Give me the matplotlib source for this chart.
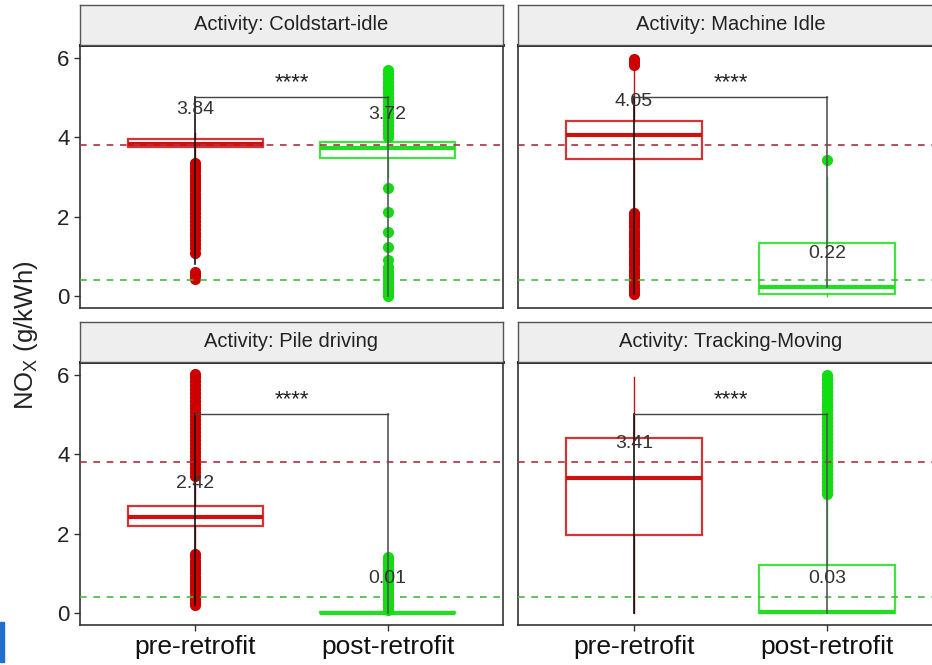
import matplotlib
matplotlib.use("Agg")
import matplotlib.pyplot as plt
from matplotlib.patches import Rectangle

plt.rcParams["font.family"] = ["Liberation Sans", "DejaVu Sans"]
plt.rcParams["mathtext.fontset"] = "custom"
plt.rcParams["mathtext.rm"] = "Liberation Sans"

groups = ["pre-retrofit", "post-retrofit"]
activities = ["Coldstart-idle", "Machine Idle", "Pile driving", "Tracking-Moving"]

# box statistics per activity: [pre, post]
medians = [[3.84, 3.72], [4.05, 0.22], [2.42, 0.01], [3.41, 0.03]]
q1s = [[3.74, 3.48], [3.45, 0.04], [2.20, 0.00], [1.97, 0.00]]
q3s = [[3.95, 3.88], [4.40, 1.33], [2.70, 0.03], [4.40, 1.20]]
whis_lo = [[3.42, 3.00], [2.15, 0.00], [1.55, 0.00], [0.00, 0.00]]
whis_hi = [[4.10, 3.95], [5.75, 3.00], [3.40, 0.06], [5.95, 2.90]]

# outlying points
cs_pre_out = [0.42, 0.48, 0.54, 0.60, 1.08, 1.20, 1.30, 1.40, 1.50, 1.60, 1.70,
              1.80, 1.90, 2.00, 2.10, 2.18, 2.26, 2.34, 2.42, 2.50, 2.58, 2.66,
              2.74, 2.82, 2.90, 2.98, 3.06, 3.14, 3.22, 3.30, 3.36]
cs_post_out = [0.00, 0.08, 0.16, 0.24, 0.32, 0.40, 0.48, 0.56, 0.64, 0.72, 0.91,
               1.24, 1.61, 2.12, 2.72, 4.00, 4.10, 4.20, 4.30, 4.40, 4.50, 4.60,
               4.70, 4.80, 4.90, 5.00, 5.10, 5.20, 5.30, 5.40, 5.50, 5.60, 5.70]
mi_pre_out = [0.05, 0.13, 0.21, 0.29, 0.37, 0.45, 0.53, 0.61, 0.69, 0.77, 0.85,
              0.93, 1.01, 1.09, 1.17, 1.25, 1.33, 1.41, 1.49, 1.57, 1.65, 1.73,
              1.81, 1.89, 1.97, 2.05, 2.10, 5.82, 5.90, 5.98]
mi_post_out = [3.43]
pd_pre_out = [0.20, 0.28, 0.36, 0.44, 0.52, 0.60, 0.68, 0.76, 0.84, 0.92, 1.00,
              1.08, 1.16, 1.24, 1.32, 1.40, 1.48, 3.45, 3.55, 3.65, 3.75, 3.85,
              3.95, 4.05, 4.15, 4.25, 4.35, 4.45, 4.55, 4.65, 4.75, 4.85, 4.95,
              5.05, 5.15, 5.25, 5.35, 5.45, 5.55, 5.65, 5.75, 5.85, 5.95, 6.02]
pd_post_out = [0.08, 0.16, 0.24, 0.32, 0.40, 0.48, 0.56, 0.64, 0.72, 0.80, 0.88,
               0.96, 1.04, 1.12, 1.20, 1.28, 1.36, 1.42]
tm_pre_out = []
tm_post_out = [3.00, 3.10, 3.20, 3.30, 3.40, 3.50, 3.60, 3.70, 3.80, 3.90, 4.00,
               4.10, 4.20, 4.30, 4.40, 4.50, 4.60, 4.70, 4.80, 4.90, 5.00, 5.10,
               5.20, 5.30, 5.40, 5.50, 5.60, 5.70, 5.80, 5.90, 6.00]
outliers = [[cs_pre_out, cs_post_out], [mi_pre_out, mi_post_out],
            [pd_pre_out, pd_post_out], [tm_pre_out, tm_post_out]]

# comparison bracket: height and lower end of each leg
bracket_y = 5.0
leg_lo = [[0.8, 0.0], [0.05, 0.22], [0.2, 0.0], [0.0, 0.0]]
signif = "****"

# reference levels
pre_level = 3.8
post_level = 0.4

box_colors = ["#cc1111", "#22dd22"]
dot_colors = ["#cc0000", "#11dd11"]

W, H = 932, 665
fig = plt.figure(figsize=(W / 100, H / 100), dpi=100)


def fx(px):
    return px / W


def fy(py):
    return 1 - py / H


cols = [(80, 503), (518, 943)]
rows = [(45, 308, 5), (362, 625, 322)]

for k, act in enumerate(activities):
    r, c = divmod(k, 2)
    x0, x1 = cols[c]
    top, bot, stop = rows[r]
    ax = fig.add_axes([fx(x0), fy(bot), fx(x1 - x0), (bot - top) / H])
    sax = fig.add_axes([fx(x0), fy(top), fx(x1 - x0), (top - stop) / H])

    # strip
    sax.set_facecolor("#eeeeee")
    sax.set_xticks([])
    sax.set_yticks([])
    for s in sax.spines.values():
        s.set_color("#555555")
        s.set_linewidth(1.0)
    sax.text(0.5, 0.5, "Activity: " + act, ha="center", va="center",
             fontsize=14.5, color="#222222", transform=sax.transAxes)

    for gi in range(2):
        col = box_colors[gi]
        stats = [dict(med=medians[k][gi], q1=q1s[k][gi], q3=q3s[k][gi],
                      whislo=whis_lo[k][gi], whishi=whis_hi[k][gi], fliers=[])]
        ax.bxp(stats, positions=[gi + 1], widths=0.7, showcaps=False,
               patch_artist=True,
               boxprops=dict(facecolor="white", edgecolor=col, linewidth=1.6, alpha=0.85),
               whiskerprops=dict(color=col, linewidth=1.0),
               medianprops=dict(color=col, linewidth=3.0, solid_capstyle="butt"),
               zorder=2)
        ys = outliers[k][gi]
        ax.plot([gi + 1] * len(ys), ys, "o", color=dot_colors[gi], ms=7,
                mec=dot_colors[gi], zorder=3)

    # reference lines
    ax.axhline(pre_level, color="#b03040", lw=1.2, dashes=(4, 4), zorder=4)
    ax.axhline(post_level, color="#44bb44", lw=1.2, dashes=(4, 4), zorder=4)

    # bracket
    ax.plot([1, 1], [leg_lo[k][0], bracket_y], color="#111111", lw=1.2, zorder=5)
    ax.plot([2, 2], [leg_lo[k][1], bracket_y], color="#555555", lw=1.2, zorder=5)
    ax.plot([1, 2], [bracket_y, bracket_y], color="#444444", lw=1.0, zorder=5)
    ax.text(1.5, bracket_y + 0.38, signif, ha="center", va="center",
            fontsize=16, color="#222222", zorder=6)

    # median labels
    for gi in range(2):
        ax.text(gi + 1, medians[k][gi] + 0.85, f"{medians[k][gi]:.2f}",
                ha="center", va="center", fontsize=14, color="#333333", zorder=6)

    ax.set_xlim(0.4, 2.6)
    ax.set_ylim(-0.3, 6.32)
    for s in ax.spines.values():
        s.set_color("#333333")
        s.set_linewidth(1.2)
    ax.spines["top"].set_linewidth(2.0)
    ax.spines["top"].set_color("#111111")

    ax.set_yticks([0, 2, 4, 6])
    if c == 0:
        ax.tick_params(axis="y", labelsize=16, colors="#333333", length=4, width=1.0,
                       labelcolor="#222222")
    else:
        ax.tick_params(axis="y", length=0, labelleft=False)
    ax.set_xticks([1, 2])
    if r == 1:
        ax.set_xticklabels(groups)
        ax.tick_params(axis="x", labelsize=19, colors="#333333", length=4, width=1.0,
                       labelcolor="#111111", pad=3)
    else:
        ax.tick_params(axis="x", length=0, labelbottom=False)

fig.text(fx(26), fy(335), r"NO$_\mathrm{X}$ (g/kWh)", rotation=90,
         ha="center", va="center", fontsize=18.5, color="#222222")

# stray marker on the left edge
fig.patches.append(Rectangle((0, fy(662)), fx(4), (662 - 622) / H,
                             transform=fig.transFigure, color="#1f6fcf"))

fig.savefig("out.png", dpi=100)
